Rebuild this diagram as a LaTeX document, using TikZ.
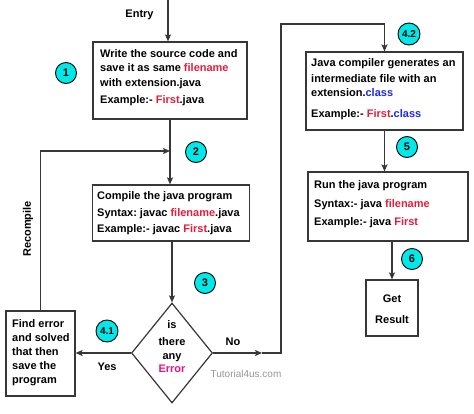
\documentclass[tikz,border=0pt]{standalone}
\usepackage{fontspec}
\setmainfont{Liberation Sans}
\usetikzlibrary{shapes.geometric,arrows.meta}
\frenchspacing
\definecolor{jred}{RGB}{228,30,58}
\definecolor{jpink}{RGB}{232,20,130}
\definecolor{jblue}{RGB}{30,40,230}
\definecolor{jcyan}{RGB}{0,232,232}
\definecolor{jline}{RGB}{55,55,55}
\definecolor{jgray}{RGB}{150,150,150}
\begin{document}
\begin{tikzpicture}[x=1pt,y=-1pt,
  box/.style={draw=jline, line width=1.2pt, rectangle, inner sep=0pt},
  txt/.style={inner sep=0pt, anchor=north west, align=left, font=\fontsize{11}{14.5}\selectfont\bfseries},
  ctxt/.style={inner sep=0pt, anchor=north, align=center, font=\fontsize{11}{14.5}\selectfont\bfseries},
  badge/.style={circle, draw=black, line width=0.9pt, fill=jcyan, minimum size=21pt, inner sep=0pt, font=\fontsize{11}{12}\selectfont\bfseries},
  smallbadge/.style={badge, minimum size=22pt, font=\fontsize{10}{11}\selectfont\bfseries},
  conn/.style={draw=jline, line width=1.2pt},
  arr/.style={conn, -{Stealth[length=7pt,width=6pt,inset=1.5pt]}},
  lbl/.style={inner sep=0pt, font=\fontsize{11}{12}\selectfont\bfseries},
]
\useasboundingbox (0,0) rectangle (474,414);
\fill[white] (0,0) rectangle (474,414);

% boxes
\node[box, minimum width=154pt, minimum height=77pt] (b1) at (170,80.5) {};
\node[box, minimum width=157pt, minimum height=56pt] (b2) at (171,213) {};
\node[diamond, draw=jline, line width=1.2pt, minimum width=81pt, minimum height=100pt, inner sep=0pt] (d) at (172,353) {};
\node[box, minimum width=69pt, minimum height=85pt] (fe) at (40.5,353.5) {};
\node[box, minimum width=157pt, minimum height=78pt] (b42) at (384.5,91) {};
\node[box, minimum width=160pt, minimum height=69pt] (run) at (388,206.5) {};
\node[box, minimum width=52pt, minimum height=56pt] (gr) at (392,308) {};

% texts
\node[txt] (t1) at (100,49) {Write the source code and\\ save it as same \textcolor{jred}{filename}\\ with extension.java\\[2.5pt] Example:- \textcolor{jred}{First}.java};
\node[txt] (t2) at (97,191.5) {Compile the java program\\[2pt] Syntax: javac \textcolor{jred}{filename}.java\\[1.5pt] Example:- javac \textcolor{jred}{First}.java};
\node[txt] (t42) at (311,58.5) {Java compiler generates an\\[1pt] intermediate file with an\\ extension.\textcolor{jblue}{class}\\[6pt] Example:- \textcolor{jred}{First}.\textcolor{jblue}{class}};
\node[txt] (trun) at (314,180) {Run the java program\\[4.5pt] Syntax:- java \textcolor{jred}{filename}\\[3.5pt] Example:- java \textcolor{jred}{First}};
\node[txt, font=\fontsize{11}{14}\selectfont\bfseries] (tfe) at (12,319.5) {Find error\\ and solved\\ that then\\ save the\\ program};
\node[ctxt] (td) at (172,320) {is\\[2.5pt] there\\ any\\[-1.5pt] \textcolor{jpink}{Error}};
\node[ctxt] (tgr) at (392,294.5) {Get\\[6.5pt] Result};

\node[lbl, anchor=base] (entrylbl) at (139.5,18) {Entry};
\node[lbl, rotate=90] (recomp) at (28,229) {Recompile};
\node[lbl] (yes) at (107,367) {Yes};
\node[lbl] (no) at (233,342) {No};
\node[inner sep=0pt, text=jgray, font=\fontsize{10}{12}\selectfont] (wm) at (246,374) {Tutorial4us.com};

% badges
\node[badge] (n1) at (66,73) {1};
\node[badge] (n2) at (196,152) {2};
\node[badge] (n3) at (205,283) {3};
\node[smallbadge] (n41) at (107,331) {4.1};
\node[smallbadge] (n42) at (409,34) {4.2};
\node[badge] (n5) at (407,147) {5};
\node[badge] (n6) at (412,259) {6};

% connectors
\coordinate (entry) at (168,0);
\coordinate (j2) at (170,151);
\coordinate (nomid) at (262,353);
\coordinate (c1) at (281,353);
\coordinate (c2) at (281,24);

\draw[arr] (entry) -- (entry |- b1.north);
\draw[arr] (b1.south) -- (b2.north -| b1.south);
\draw[arr] (fe.north) -- (fe.north |- j2) -- (j2);
\draw[arr] (b2.south -| d.north) -- (d.north);
\draw[arr] (d.west) -- (d.west -| fe.east);
\draw[arr] (d.east) -- (nomid);
\draw[conn] (nomid) -- (c1) -- (c2) -- (c2 -| b42.north);
\draw[arr] (c2 -| b42.north) -- (b42.north);
\draw[arr] (b42.south) -- (b42.south |- run.north);
\draw[arr] (gr.north |- run.south) -- (gr.north);
\end{tikzpicture}
\end{document}
